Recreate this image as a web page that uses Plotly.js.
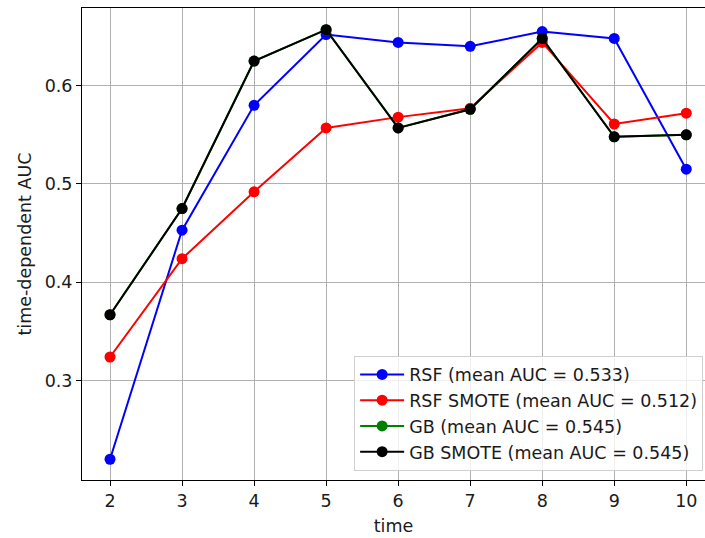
<!DOCTYPE html>
<html>
<head>
<meta charset="utf-8">
<script src="https://cdn.plot.ly/plotly-3.0.1.min.js"></script>
<style>html,body{margin:0;padding:0;background:#fff;}#chart{width:705px;height:538px;}</style>
</head>
<body>
<div id="chart"></div>
<script>
const times = [2, 3, 4, 5, 6, 7, 8, 9, 10];
const rsf = [0.220, 0.453, 0.580, 0.652, 0.644, 0.640, 0.655, 0.648, 0.515];
const rsfSmote = [0.324, 0.424, 0.492, 0.557, 0.568, 0.577, 0.644, 0.561, 0.572];
const gb = [0.367, 0.475, 0.625, 0.657, 0.557, 0.576, 0.648, 0.548, 0.550];
const gbSmote = [0.367, 0.475, 0.625, 0.657, 0.557, 0.576, 0.648, 0.548, 0.550];
const names = ['RSF (mean AUC = 0.533)', 'RSF SMOTE (mean AUC = 0.512)', 'GB (mean AUC = 0.545)', 'GB SMOTE (mean AUC = 0.545)'];
const colors = ['#0000ff', '#ff0000', '#008000', '#000000'];
const series = [rsf, rsfSmote, gb, gbSmote];

const traces = series.map((s, i) => ({
  x: times, y: s, name: names[i], type: 'scatter', mode: 'lines+markers',
  line: {color: colors[i], width: 2},
  marker: {color: colors[i], size: 11}
}));

const font = {family: 'DejaVu Sans', size: 17.5, color: '#1a1a1a'};
const layout = {
  width: 705, height: 538,
  margin: {l: 82, r: 0, t: 8, b: 58},
  paper_bgcolor: '#fff', plot_bgcolor: '#fff',
  font: font,
  showlegend: true,
  xaxis: {
    range: [1.611, 10.26], tickvals: times, ticktext: times.map(String),
    showgrid: true, gridcolor: '#b0b0b0', gridwidth: 1,
    showline: true, linecolor: '#000', linewidth: 1, mirror: true,
    ticks: 'outside', ticklen: 5, tickcolor: '#000', zeroline: false,
    tickfont: font,
    title: {text: 'time', font: font, standoff: 9}
  },
  yaxis: {
    range: [0.1989, 0.679], tickvals: [0.3, 0.4, 0.5, 0.6], ticktext: ['0.3', '0.4', '0.5', '0.6'],
    showgrid: true, gridcolor: '#b0b0b0', gridwidth: 1,
    showline: true, linecolor: '#000', linewidth: 1, mirror: false,
    ticks: 'outside', ticklen: 5, tickcolor: '#000', zeroline: false,
    tickfont: font,
    title: {text: 'time-dependent AUC', font: font, standoff: 8}
  },
  legend: {
    x: 0.997, xanchor: 'right', y: 0.02, yanchor: 'bottom',
    bgcolor: 'rgba(255,255,255,0.8)', bordercolor: '#d0d0d0', borderwidth: 1,
    font: font, tracegroupgap: 0, itemwidth: 44
  }
};
Plotly.newPlot('chart', traces, layout, {displayModeBar: false, staticPlot: true});
</script>
</body>
</html>
